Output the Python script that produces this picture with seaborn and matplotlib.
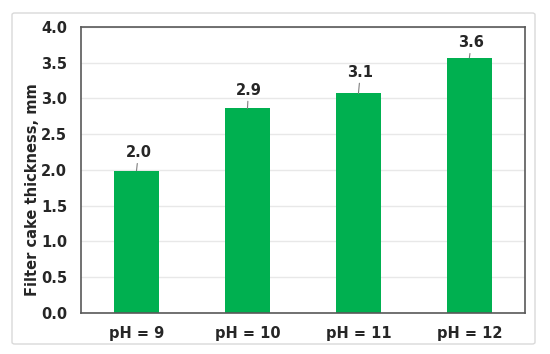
import pandas as pd
import matplotlib.pyplot as plt
import seaborn as sns
from matplotlib.patches import FancyBboxPatch

# data
categories = ['pH = 9', 'pH = 10', 'pH = 11', 'pH = 12']
thickness = [1.99, 2.86, 3.07, 3.57]
labels = ['2.0', '2.9', '3.1', '3.6']

df = pd.DataFrame({'pH': categories, 'thickness': thickness})

sns.set_style('white')
plt.rcParams['font.family'] = ['DejaVu Sans']
plt.rcParams['font.weight'] = 'bold'

fig = plt.figure(figsize=(5.5, 3.54), dpi=100)
ax = fig.add_axes([0.1473, 0.1158, 0.807, 0.808])

sns.barplot(data=df, x='pH', y='thickness', color='#00B050', width=0.4,
            saturation=1, linewidth=0, ax=ax)

ax.set_ylim(0, 4)
ax.set_yticks([0, 0.5, 1.0, 1.5, 2.0, 2.5, 3.0, 3.5, 4.0])
ax.set_yticklabels([f'{v:.1f}' for v in ax.get_yticks()])
ax.set_xlim(-0.5, 3.5)
ax.grid(axis='y', color='#e8e8e8', linewidth=1)
ax.set_axisbelow(True)
ax.tick_params(axis='y', length=0, pad=10, labelsize=10.5)
ax.tick_params(axis='x', length=0, pad=9, labelsize=10.5)
for lbl in ax.get_xticklabels() + ax.get_yticklabels():
    lbl.set_fontweight('bold')
ax.set_xlabel('')
ax.set_ylabel('Filter cake thickness, mm', fontsize=10.5, fontweight='bold')
ax.yaxis.set_label_coords(-0.093, 0.43)

for s in ax.spines.values():
    s.set_color('#595959')
    s.set_linewidth(1.2)

# data labels with short leader lines
offsets = [(2, 18), (1, 18), (2, 21), (2, 15)]
for i, (v, t) in enumerate(zip(thickness, labels)):
    ax.annotate(t, xy=(i, v), xytext=offsets[i], textcoords='offset pixels',
                ha='center', va='center', fontsize=10.5, fontweight='bold',
                arrowprops=dict(arrowstyle='-', color='#7f7f7f', lw=0.8,
                                shrinkA=0, shrinkB=0))

# outer chart border
fig.patches.append(FancyBboxPatch((12 / 550, 10 / 354), 523 / 550, 331 / 354,
                                  boxstyle='round,pad=0,rounding_size=0.005',
                                  transform=fig.transFigure, fill=False,
                                  edgecolor='#d9d9d9', linewidth=1))

plt.savefig('out.png', dpi=100)
